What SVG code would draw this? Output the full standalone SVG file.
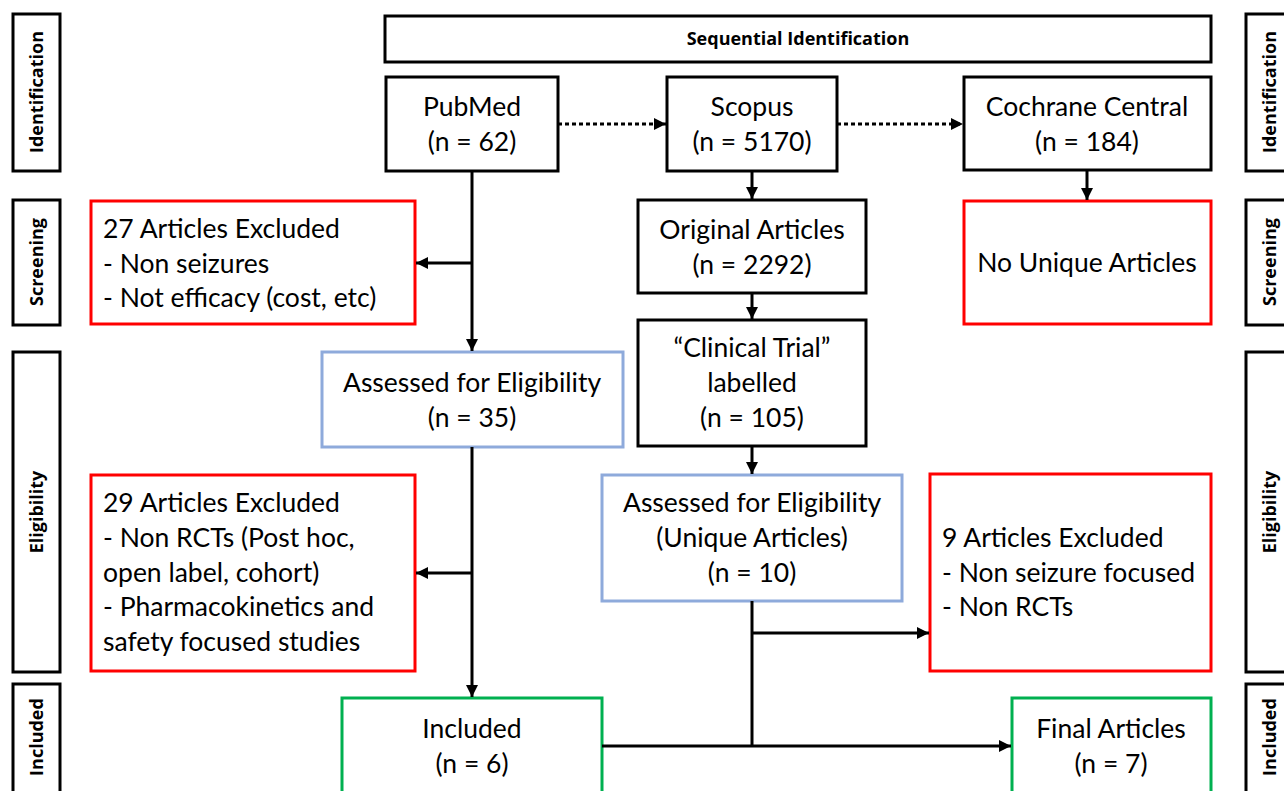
<svg xmlns="http://www.w3.org/2000/svg" width="1284" height="791" viewBox="0 0 1284 791">
<style>
.bx{fill:#fff;stroke:#000;stroke-width:3}
.rd{fill:#fff;stroke:#ff0000;stroke-width:3}
.bl{fill:#fff;stroke:#8eaadb;stroke-width:3}
.gr{fill:#fff;stroke:#00b050;stroke-width:3}
.t{font-family:Lato,"Open Sans",sans-serif;font-size:26.5px;fill:#000}
.c{text-anchor:middle}
.lb{font-family:"Open Sans","Noto Sans",sans-serif;font-size:18px;font-weight:bold;fill:#000;text-anchor:middle}
.ln{fill:none;stroke:#000;stroke-width:3}
.dt{fill:none;stroke:#000;stroke-width:3;stroke-dasharray:4 3}
</style>
<defs>
<marker id="ah" markerUnits="userSpaceOnUse" markerWidth="14" markerHeight="14" refX="12" refY="6" orient="auto">
<path d="M0,0 L12,6 L0,12 Z" fill="#000"/>
</marker>
</defs>
<rect width="1284" height="791" fill="#fff"/>

<g id="side-left">
<rect class="bx" x="13" y="14" width="47" height="157"/>
<text class="lb" transform="translate(43,92) rotate(-90)">Identification</text>
<rect class="bx" x="13" y="200" width="47" height="125"/>
<text class="lb" transform="translate(43,262) rotate(-90)">Screening</text>
<rect class="bx" x="13" y="352" width="47" height="320"/>
<text class="lb" transform="translate(43,512) rotate(-90)">Eligibility</text>
<rect class="bx" x="13" y="684" width="47" height="120"/>
<text class="lb" transform="translate(43,737) rotate(-90)">Included</text>
</g>

<g id="side-right">
<rect class="bx" x="1246" y="14" width="47" height="157"/>
<text class="lb" transform="translate(1276,92) rotate(-90)">Identification</text>
<rect class="bx" x="1246" y="200" width="47" height="125"/>
<text class="lb" transform="translate(1276,262) rotate(-90)">Screening</text>
<rect class="bx" x="1246" y="352" width="47" height="320"/>
<text class="lb" transform="translate(1276,512) rotate(-90)">Eligibility</text>
<rect class="bx" x="1246" y="684" width="47" height="120"/>
<text class="lb" transform="translate(1276,737) rotate(-90)">Included</text>
</g>

<g id="seq">
<rect class="bx" x="385" y="16" width="826" height="46"/>
<text class="lb" x="798" y="45">Sequential Identification</text>
</g>

<g id="pubmed">
<rect class="bx" x="386" y="77" width="172" height="94"/>
<text class="t c" x="472" y="116">PubMed</text>
<text class="t c" x="472" y="151">(n = 62)</text>
</g>
<g id="scopus">
<rect class="bx" x="667" y="77" width="170" height="94"/>
<text class="t c" x="752" y="116">Scopus</text>
<text class="t c" x="752" y="151">(n = 5170)</text>
</g>
<g id="cochrane">
<rect class="bx" x="964" y="77" width="247" height="93"/>
<text class="t c" x="1087" y="116">Cochrane Central</text>
<text class="t c" x="1087" y="151">(n = 184)</text>
</g>

<g id="excl27">
<rect class="rd" x="91" y="201" width="324" height="123"/>
<text class="t" x="103" y="238">27 Articles Excluded</text>
<text class="t" x="103" y="273">- Non seizures</text>
<text class="t" x="103" y="307">- Not efficacy (cost, etc)</text>
</g>
<g id="original">
<rect class="bx" x="638" y="200" width="228" height="93"/>
<text class="t c" x="752" y="239">Original Articles</text>
<text class="t c" x="752" y="274">(n = 2292)</text>
</g>
<g id="nounique">
<rect class="rd" x="964" y="201" width="247" height="123"/>
<text class="t c" x="1087" y="272">No Unique Articles</text>
</g>

<g id="assessed35">
<rect class="bl" x="322" y="352" width="301" height="95"/>
<text class="t c" x="472" y="392">Assessed for Eligibility</text>
<text class="t c" x="472" y="427">(n = 35)</text>
</g>
<g id="clinical">
<rect class="bx" x="638" y="320" width="228" height="126"/>
<text class="t c" x="752" y="357">“Clinical Trial”</text>
<text class="t c" x="752" y="392">labelled</text>
<text class="t c" x="752" y="427">(n = 105)</text>
</g>

<g id="excl29">
<rect class="rd" x="91" y="475" width="324" height="196"/>
<text class="t" x="103" y="512">29 Articles Excluded</text>
<text class="t" x="103" y="547">- Non RCTs (Post hoc,</text>
<text class="t" x="103" y="582">open label, cohort)</text>
<text class="t" x="103" y="616">- Pharmacokinetics and</text>
<text class="t" x="103" y="651">safety focused studies</text>
</g>
<g id="assessedU">
<rect class="bl" x="602" y="475" width="300" height="126"/>
<text class="t c" x="752" y="512">Assessed for Eligibility</text>
<text class="t c" x="752" y="547">(Unique Articles)</text>
<text class="t c" x="752" y="582">(n = 10)</text>
</g>
<g id="excl9">
<rect class="rd" x="930" y="474" width="281" height="197"/>
<text class="t" x="942" y="547">9 Articles Excluded</text>
<text class="t" x="942" y="582">- Non seizure focused</text>
<text class="t" x="942" y="616">- Non RCTs</text>
</g>

<g id="included">
<rect class="gr" x="342" y="698" width="260" height="110"/>
<text class="t c" x="472" y="738">Included</text>
<text class="t c" x="472" y="773">(n = 6)</text>
</g>
<g id="final">
<rect class="gr" x="1012" y="698" width="199" height="110"/>
<text class="t c" x="1111" y="738">Final Articles</text>
<text class="t c" x="1111" y="773">(n = 7)</text>
</g>

<g id="connectors">
<line class="dt" x1="558" y1="124" x2="666" y2="124" marker-end="url(#ah)"/>
<line class="dt" x1="837" y1="124" x2="963" y2="124" marker-end="url(#ah)"/>
<line class="ln" x1="752" y1="171" x2="752" y2="199" marker-end="url(#ah)"/>
<line class="ln" x1="1087" y1="170" x2="1087" y2="200" marker-end="url(#ah)"/>
<line class="ln" x1="752" y1="293" x2="752" y2="319" marker-end="url(#ah)"/>
<line class="ln" x1="472" y1="171" x2="472" y2="351" marker-end="url(#ah)"/>
<line class="ln" x1="472" y1="263" x2="416" y2="263" marker-end="url(#ah)"/>
<line class="ln" x1="752" y1="446" x2="752" y2="474" marker-end="url(#ah)"/>
<line class="ln" x1="472" y1="447" x2="472" y2="697" marker-end="url(#ah)"/>
<line class="ln" x1="472" y1="573" x2="416" y2="573" marker-end="url(#ah)"/>
<line class="ln" x1="752" y1="601" x2="752" y2="746"/>
<line class="ln" x1="752" y1="633" x2="929" y2="633" marker-end="url(#ah)"/>
<line class="ln" x1="602" y1="746" x2="1011" y2="746" marker-end="url(#ah)"/>
</g>
</svg>
